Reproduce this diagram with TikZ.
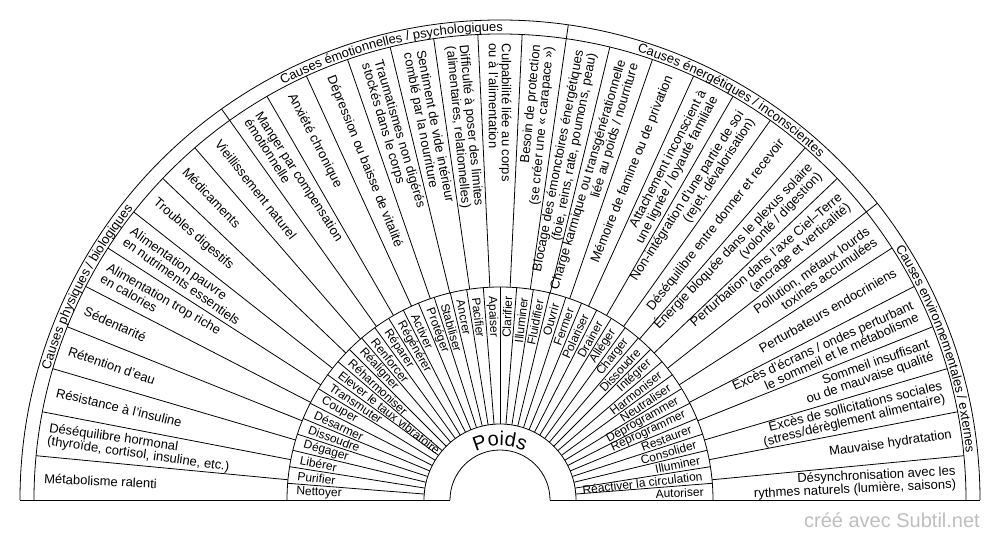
\documentclass[tikz,border=0pt]{standalone}
\usepackage{fontspec}
\setmainfont{Liberation Sans}
\usepackage{tikz}
\usetikzlibrary{decorations.text}
\definecolor{creditgray}{RGB}{190,190,190}
\newcommand{\bandfont}{\fontsize{13}{13}\selectfont}
\newcommand{\poidsfont}{\fontsize{20}{20}\selectfont}

\begin{document}
\begin{tikzpicture}[
		x=1pt, y=1pt,
		wheel/.style={draw=black, line width=0.8pt},
		causenode/.style={inner sep=1.5pt, font=\fontsize{13}{13}\selectfont},
		actionnode/.style={inner sep=1.5pt, font=\fontsize{12}{12}\selectfont},
		creditnode/.style={inner sep=0pt, text=creditgray, font=\fontsize{20}{20}\selectfont},
	]

	\useasboundingbox (-500,-40) rectangle (500,500);

	%Rings
	\foreach \r in {50,76,213,466,480}
		\draw[wheel] (\r,0) arc[start angle=0, end angle=180, radius=\r];
	\draw[wheel] (-480,0) -- (-50,0);
	\draw[wheel] (50,0) -- (480,0);

	%Spokes
	\foreach \i in {1,...,39}
		\draw[wheel] ({180-\i*4.5}:76) -- ({180-\i*4.5}:213);
	\foreach \k in {1,...,32}
		\draw[wheel] ({180-\k*180/33}:213) -- ({180-\k*180/33}:466);
	\foreach \k in {10,18,26}
		\draw[wheel] ({180-\k*180/33}:466) -- ({180-\k*180/33}:480);

	%Centre
	\path[decorate, decoration={text along path, text align=center, text={|\poidsfont|Poids}}]
		(160:54) arc[start angle=160, end angle=20, radius=54];

	%Band labels
	\path[decorate, decoration={text along path, text align=center, text={|\bandfont|Causes physiques / biologiques}}]
		(180:468.5) arc[start angle=180, end angle={180-10*180/33}, radius=468.5];
	\path[decorate, decoration={text along path, text align=center, text={|\bandfont|Causes émotionnelles / psychologiques}}]
		({180-10*180/33}:468.5) arc[start angle={180-10*180/33}, end angle={180-18*180/33}, radius=468.5];
	\path[decorate, decoration={text along path, text align=center, text={|\bandfont|Causes énergétiques / inconscientes}}]
		({180-18*180/33}:468.5) arc[start angle={180-18*180/33}, end angle={180-26*180/33}, radius=468.5];
	\path[decorate, decoration={text along path, text align=center, text={|\bandfont|Causes environnementales / externes}}]
		({180-26*180/33}:468.5) arc[start angle={180-26*180/33}, end angle=0, radius=468.5];

	%Causes
	\foreach \txt [count=\k] in {
		{Métabolisme ralenti},
		{Déséquilibre hormonal\\(thyroïde, cortisol, insuline, etc.)},
		{Résistance à l'insuline},
		{Rétention d'eau},
		{Sédentarité},
		{Alimentation trop riche\\en calories},
		{Alimentation pauvre\\en nutriments essentiels},
		{Troubles digestifs},
		{Médicaments},
		{Vieillissement naturel},
		{Manger par compensation\\émotionnelle},
		{Anxiété chronique},
		{Dépression ou baisse de vitalité},
		{Traumatismes non digérés\\stockés dans le corps},
		{Sentiment de vide intérieur\\comblé par la nourriture},
		{Difficulté à poser des limites\\(alimentaires, relationnelles)},
		{Culpabilité liée au corps\\ou à l'alimentation},
		{Besoin de protection\\(se créer une « carapace »)},
		{Blocage des émonctoires énergétiques\\(foie, reins, rate, poumons, peau)},
		{Charge karmique ou transgénérationnelle\\liée au poids / nourriture},
		{Mémoire de famine ou de privation},
		{Attachement inconscient à\\une lignée / loyauté familiale},
		{Non-intégration d'une partie de soi\\(rejet, dévalorisation)},
		{Déséquilibre entre donner et recevoir},
		{Énergie bloquée dans le plexus solaire\\(volonté / digestion)},
		{Perturbation dans l'axe Ciel–Terre\\(ancrage et verticalité)},
		{Pollution, métaux lourds\\toxines accumulées},
		{Perturbateurs endocriniens},
		{Excès d'écrans / ondes perturbant\\le sommeil et le métabolisme},
		{Sommeil insuffisant\\ou de mauvaise qualité},
		{Excès de sollicitations sociales\\(stress/dérèglement alimentaire)},
		{Mauvaise hydratation},
		{Désynchronisation avec les\\rythmes naturels (lumière, saisons)}}{
		\pgfmathsetmacro{\ang}{180-(\k-0.5)*180/33}
		\ifnum\k<18
			\node[causenode, anchor=west, align=left, rotate=\ang-180] (cause\k) at (\ang:458) {\txt};
		\else
			\node[causenode, anchor=east, align=right, rotate=\ang] (cause\k) at (\ang:458) {\txt};
		\fi
	}

	%Actions
	\foreach \txt [count=\i] in {
		Nettoyer, Purifier, Libérer, Dégager, Dissoudre, Désarmer, Couper, Transmuter,
		Elever le taux vibratoire, Réharmoniser, Réaligner, Renforcer, Réparer, Régénérer,
		Activer, Protéger, Stabiliser, Ancrer, Pacifier, Apaiser, Clarifier, Illuminer,
		Fluidifier, Ouvrir, Fermer, Polariser, Drainer, Alléger, Charger, Dissoudre,
		Intégrer, Harmoniser, Neutraliser, Déprogrammer, Reprogrammer, Restaurer,
		Consolider, Illuminer, Réactiver la circulation, Autoriser}{
		\pgfmathsetmacro{\ang}{180-(\i-0.5)*4.5}
		\ifnum\i<21
			\node[actionnode, anchor=west, rotate=\ang-180] (action\i) at (\ang:205.5) {\txt};
		\else
			\node[actionnode, anchor=east, rotate=\ang] (action\i) at (\ang:205.5) {\txt};
		\fi
	}

	%Credit
	\node[creditnode, anchor=base east] (credit) at (480,-28) {créé avec Subtil.net};

\end{tikzpicture}
\end{document}
